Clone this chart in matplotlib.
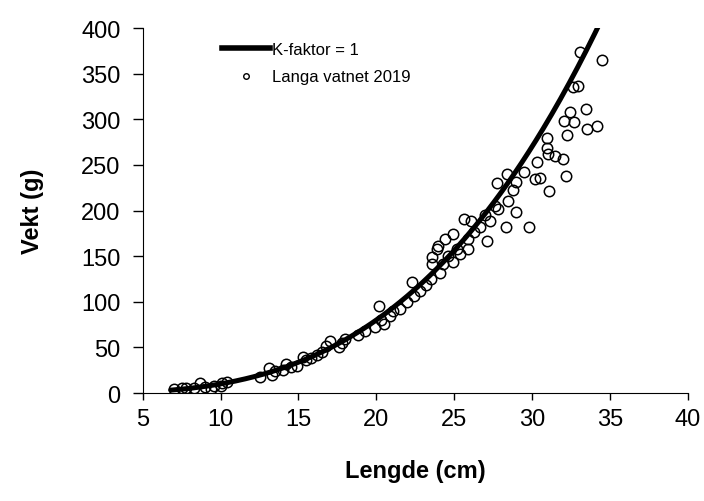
import numpy as np
import matplotlib
matplotlib.use("Agg")
import matplotlib.pyplot as plt
from matplotlib.lines import Line2D

plt.rcParams['font.family'] = ['Liberation Sans', 'DejaVu Sans']

# measured fish, Langavatnet 2019
lengde = [7.0, 7.5, 7.8, 8.3, 8.7, 9.0, 9.4, 9.6, 10.0, 10.1, 10.4, 12.5, 13.1, 13.3,
          13.5, 14.0, 14.2, 14.5, 14.9, 15.3, 15.5, 15.8, 16.2, 16.5, 16.8, 17.0, 17.6,
          17.8, 18.0, 18.8, 19.3, 19.9, 20.2, 20.3, 20.5, 20.9, 21.1, 21.5, 22.0, 22.3,
          22.4, 22.8, 23.2, 23.5, 23.6, 23.6, 23.9, 23.95, 24.1, 24.3, 24.4, 24.6, 24.9,
          24.9, 25.2, 25.4, 25.6, 25.9, 25.9, 26.1, 26.3, 26.65, 27.0, 27.1, 27.3, 27.6,
          27.75, 27.8, 28.3, 28.4, 28.45, 28.8, 29.0, 29.0, 29.5, 29.8, 30.2, 30.3, 30.5,
          30.95, 30.95, 31.0, 31.1, 31.47, 31.98, 32.04, 32.2, 32.23, 32.42, 32.6, 32.68,
          32.94, 33.07, 33.45, 33.5, 34.15, 34.48]
vekt = [4, 5, 6, 6, 11, 7, 4, 8, 8, 11, 12, 18, 27, 20,
        24, 25, 32, 28, 30, 40, 36, 38, 42, 45, 52, 57, 50,
        55, 59, 64, 68, 72, 95, 80, 76, 84, 90, 92, 100, 122,
        106, 112, 118, 125, 141, 149, 158, 161, 132, 141, 169, 150, 144,
        174, 158, 152, 191, 158, 169, 188, 176, 182, 195, 167, 188, 205,
        230, 202, 182, 240, 210, 222, 231, 198, 242, 182, 235, 253, 236,
        279, 269, 262, 221, 260, 257, 298, 238, 283, 308, 335, 297,
        336, 374, 311, 289, 293, 365]

# K-faktor = 1 curve: W = K * L^3 / 100
k_faktor = 1
curve_start, curve_end = 6.8, 34.3

fig = plt.figure(figsize=(7.04, 5.02), dpi=100)
ax = fig.add_axes([0.2027, 0.2151, 0.7743, 0.7271])

L = np.linspace(curve_start, curve_end, 300)
ax.plot(L, k_faktor * L**3 / 100, color='black', lw=3.6, zorder=3, solid_capstyle='round')
ax.plot(lengde, vekt, 'o', mfc='none', mec='black', ms=7.5, mew=1.1, zorder=2)

ax.set_xlim(5, 40)
ax.set_ylim(0, 400)
ax.set_xticks(range(5, 41, 5))
ax.set_yticks(range(0, 401, 50))
ax.spines['top'].set_visible(False)
ax.spines['right'].set_visible(False)
ax.tick_params(axis='both', labelsize=17, direction='out', width=1)
ax.tick_params(axis='x', length=5, pad=6)
ax.tick_params(axis='y', length=7, pad=9)
ax.set_xlabel('Lengde (cm)', fontsize=17, fontweight='bold', labelpad=21)
ax.set_ylabel('Vekt (g)', fontsize=17, fontweight='bold', labelpad=27)

handles = [Line2D([], [], color='black', lw=4),
           Line2D([], [], ls='none', marker='o', mfc='none', mec='black', ms=4, mew=1)]
ax.legend(handles, ['K-faktor = 1', 'Langa vatnet 2019'], loc='upper left',
          bbox_to_anchor=(0.145, 0.962), frameon=False, fontsize=12,
          handlelength=2.9, handletextpad=0.1, labelspacing=0.75, borderpad=0,
          borderaxespad=0)

fig.savefig('out.png', dpi=100)
